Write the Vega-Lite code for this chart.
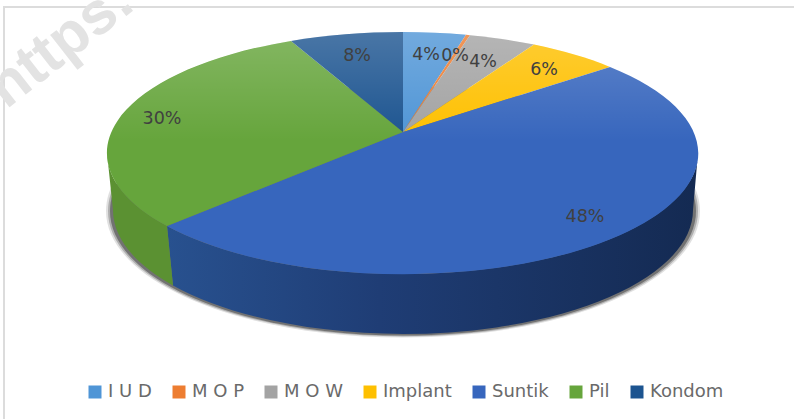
{
"$schema":"https://vega.github.io/schema/vega-lite/v6.json",
"width":794,"height":416,
"autosize":{"type":"none"},
"padding":{"left":4,"top":7,"right":0,"bottom":0},
"background":"white",
"view":{"stroke":"#dcdcdc","strokeWidth":2,"fill":"white"},
"data":{"values":[
{"jenis":"I U D","persen":0.04},
{"jenis":"M O P","persen":0.004},
{"jenis":"M O W","persen":0.04},
{"jenis":"Implant","persen":0.06},
{"jenis":"Suntik","persen":0.48},
{"jenis":"Pil","persen":0.30},
{"jenis":"Kondom","persen":0.08}
]},
"layer":[
{"transform":[{"filter":"datum.jenis==='Suntik'"}],
 "mark":{"type":"text","text":"https:","angle":-38,"font":"Liberation Sans","fontWeight":"bold","fontSize":60,"color":"#e3e3e3","dx":-163,"dy":-344}},
{"transform":[{"filter":"datum.jenis==='Suntik'"}],
 "mark":{"type":"point","filled":true,"size":4,"opacity":0.12,"fill":"#000","stroke":null,"shape":"M-295 -4A297 126.5 0 1 1 299 -4A297 126.5 0 1 1 -295 -4Z"}},
{"transform":[{"filter":"datum.jenis==='Suntik'"}],
 "mark":{"type":"point","filled":true,"size":4,"opacity":0.22,"fill":"#000","stroke":null,"shape":"M-293 -4A295 125.5 0 1 1 297 -4A295 125.5 0 1 1 -293 -4Z"}},
{"transform":[{"filter":"datum.jenis==='Suntik'"}],
 "mark":{"type":"point","filled":true,"size":4,"opacity":0.35,"fill":"#000","stroke":null,"shape":"M-291 -4A293 124.5 0 1 1 295 -4A293 124.5 0 1 1 -291 -4Z"}},
{"transform":[{"filter":"datum.jenis==='Suntik'"}],
 "mark":{"type":"point","filled":true,"size":4,"opacity":1,"stroke":null,
  "fill":{"gradient":"linear","x1":0,"y1":0,"x2":1,"y2":0,"stops":[{"offset":0,"color":"#28518f"},{"offset":0.4,"color":"#1f3d75"},{"offset":1,"color":"#142a52"}]},
  "shape":"M297 -62A295.5 121 0 0 1 -234 11.1L-228 70.5A290 124 0 0 0 292 -5Z"}},
{"transform":[{"filter":"datum.jenis==='Pil'"}],
 "mark":{"type":"point","filled":true,"size":4,"opacity":1,"stroke":null,"fill":"#5b9132",
  "shape":"M-234 11.1A295.5 121 0 0 1 -294 -62L-288 -5A290 124 0 0 0 -228 70.5Z"}},
{"transform":[{"filter":"datum.jenis==='I U D'"}],
 "mark":{"type":"point","filled":true,"size":4,"opacity":1,"stroke":null,"shape":"M2 -83L2 -183A295.5 121 0 0 1 65 -180.2Z"},
 "encoding":{"color":{"field":"jenis","type":"nominal",
   "scale":{"domain":["I U D","M O P","M O W","Implant","Suntik","Pil","Kondom"],
    "range":["#4f95d6","#ed7d31","#a3a3a3","#fec000","#3766bd","#66a53c","#1c5490"]},
   "legend":{"title":null,"orient":"none","legendX":82,"legendY":376,"columns":7,"direction":"horizontal","symbolType":"square","symbolSize":169,"symbolOpacity":1,"symbolStrokeWidth":0,"labelFont":"DejaVu Sans","labelFontSize":18,"labelColor":"#6a6a6a","labelOffset":4,"columnPadding":18,"padding":0}}}},
{"transform":[{"filter":"datum.jenis==='M O P'"}],
 "mark":{"type":"point","filled":true,"size":4,"opacity":1,"stroke":null,"shape":"M2 -83L65 -180.2A295.5 121 0 0 1 69 -179.8Z"},
 "encoding":{"color":{"field":"jenis","type":"nominal"}}},
{"transform":[{"filter":"datum.jenis==='M O W'"}],
 "mark":{"type":"point","filled":true,"size":4,"opacity":1,"stroke":null,"shape":"M2 -83L69 -179.8A295.5 121 0 0 1 133 -170.4Z"},
 "encoding":{"color":{"field":"jenis","type":"nominal"}}},
{"transform":[{"filter":"datum.jenis==='Implant'"}],
 "mark":{"type":"point","filled":true,"size":4,"opacity":1,"stroke":null,"shape":"M2 -83L133 -170.4A295.5 121 0 0 1 209 -148.1Z"},
 "encoding":{"color":{"field":"jenis","type":"nominal"}}},
{"transform":[{"filter":"datum.jenis==='Suntik'"}],
 "mark":{"type":"point","filled":true,"size":4,"opacity":1,"stroke":null,"shape":"M2 -83L209 -148.1A295.5 121 0 1 1 -234 11.1Z"},
 "encoding":{"color":{"field":"jenis","type":"nominal"}}},
{"transform":[{"filter":"datum.jenis==='Pil'"}],
 "mark":{"type":"point","filled":true,"size":4,"opacity":1,"stroke":null,"shape":"M2 -83L-234 11.1A295.5 121 0 0 1 -110 -174.1Z"},
 "encoding":{"color":{"field":"jenis","type":"nominal"}}},
{"transform":[{"filter":"datum.jenis==='Kondom'"}],
 "mark":{"type":"point","filled":true,"size":4,"opacity":1,"stroke":null,"shape":"M2 -83L-110 -174.1A295.5 121 0 0 1 2 -183Z"},
 "encoding":{"color":{"field":"jenis","type":"nominal"}}},
{"transform":[{"filter":"datum.jenis==='Suntik'"}],
 "mark":{"type":"point","filled":true,"size":4,"opacity":1,"stroke":null,
  "fill":{"gradient":"linear","x1":0,"y1":0,"x2":0,"y2":1,"stops":[{"offset":0,"color":"rgba(255,255,255,0.2)"},{"offset":0.45,"color":"rgba(255,255,255,0)"}]},
  "shape":"M-294 -62A295.5 121 0 1 1 297 -62A295.5 121 0 1 1 -294 -62Z"}},
{"transform":[{"filter":"datum.jenis==='I U D'"}],"mark":{"type":"text","font":"DejaVu Sans","fontSize":17.5,"color":"#404040","dx":25,"dy":-160},"encoding":{"text":{"field":"persen","type":"quantitative","format":".0%"}}},
{"transform":[{"filter":"datum.jenis==='M O P'"}],"mark":{"type":"text","font":"DejaVu Sans","fontSize":17.5,"color":"#404040","dx":54,"dy":-159},"encoding":{"text":{"field":"persen","type":"quantitative","format":".0%"}}},
{"transform":[{"filter":"datum.jenis==='M O W'"}],"mark":{"type":"text","font":"DejaVu Sans","fontSize":17.5,"color":"#404040","dx":82,"dy":-153},"encoding":{"text":{"field":"persen","type":"quantitative","format":".0%"}}},
{"transform":[{"filter":"datum.jenis==='Implant'"}],"mark":{"type":"text","font":"DejaVu Sans","fontSize":17.5,"color":"#404040","dx":143,"dy":-145},"encoding":{"text":{"field":"persen","type":"quantitative","format":".0%"}}},
{"transform":[{"filter":"datum.jenis==='Suntik'"}],"mark":{"type":"text","font":"DejaVu Sans","fontSize":17.5,"color":"#404040","dx":184,"dy":2},"encoding":{"text":{"field":"persen","type":"quantitative","format":".0%"}}},
{"transform":[{"filter":"datum.jenis==='Pil'"}],"mark":{"type":"text","font":"DejaVu Sans","fontSize":17.5,"color":"#404040","dx":-239,"dy":-96},"encoding":{"text":{"field":"persen","type":"quantitative","format":".0%"}}},
{"transform":[{"filter":"datum.jenis==='Kondom'"}],"mark":{"type":"text","font":"DejaVu Sans","fontSize":17.5,"color":"#404040","dx":-44,"dy":-159},"encoding":{"text":{"field":"persen","type":"quantitative","format":".0%"}}}
]
}
